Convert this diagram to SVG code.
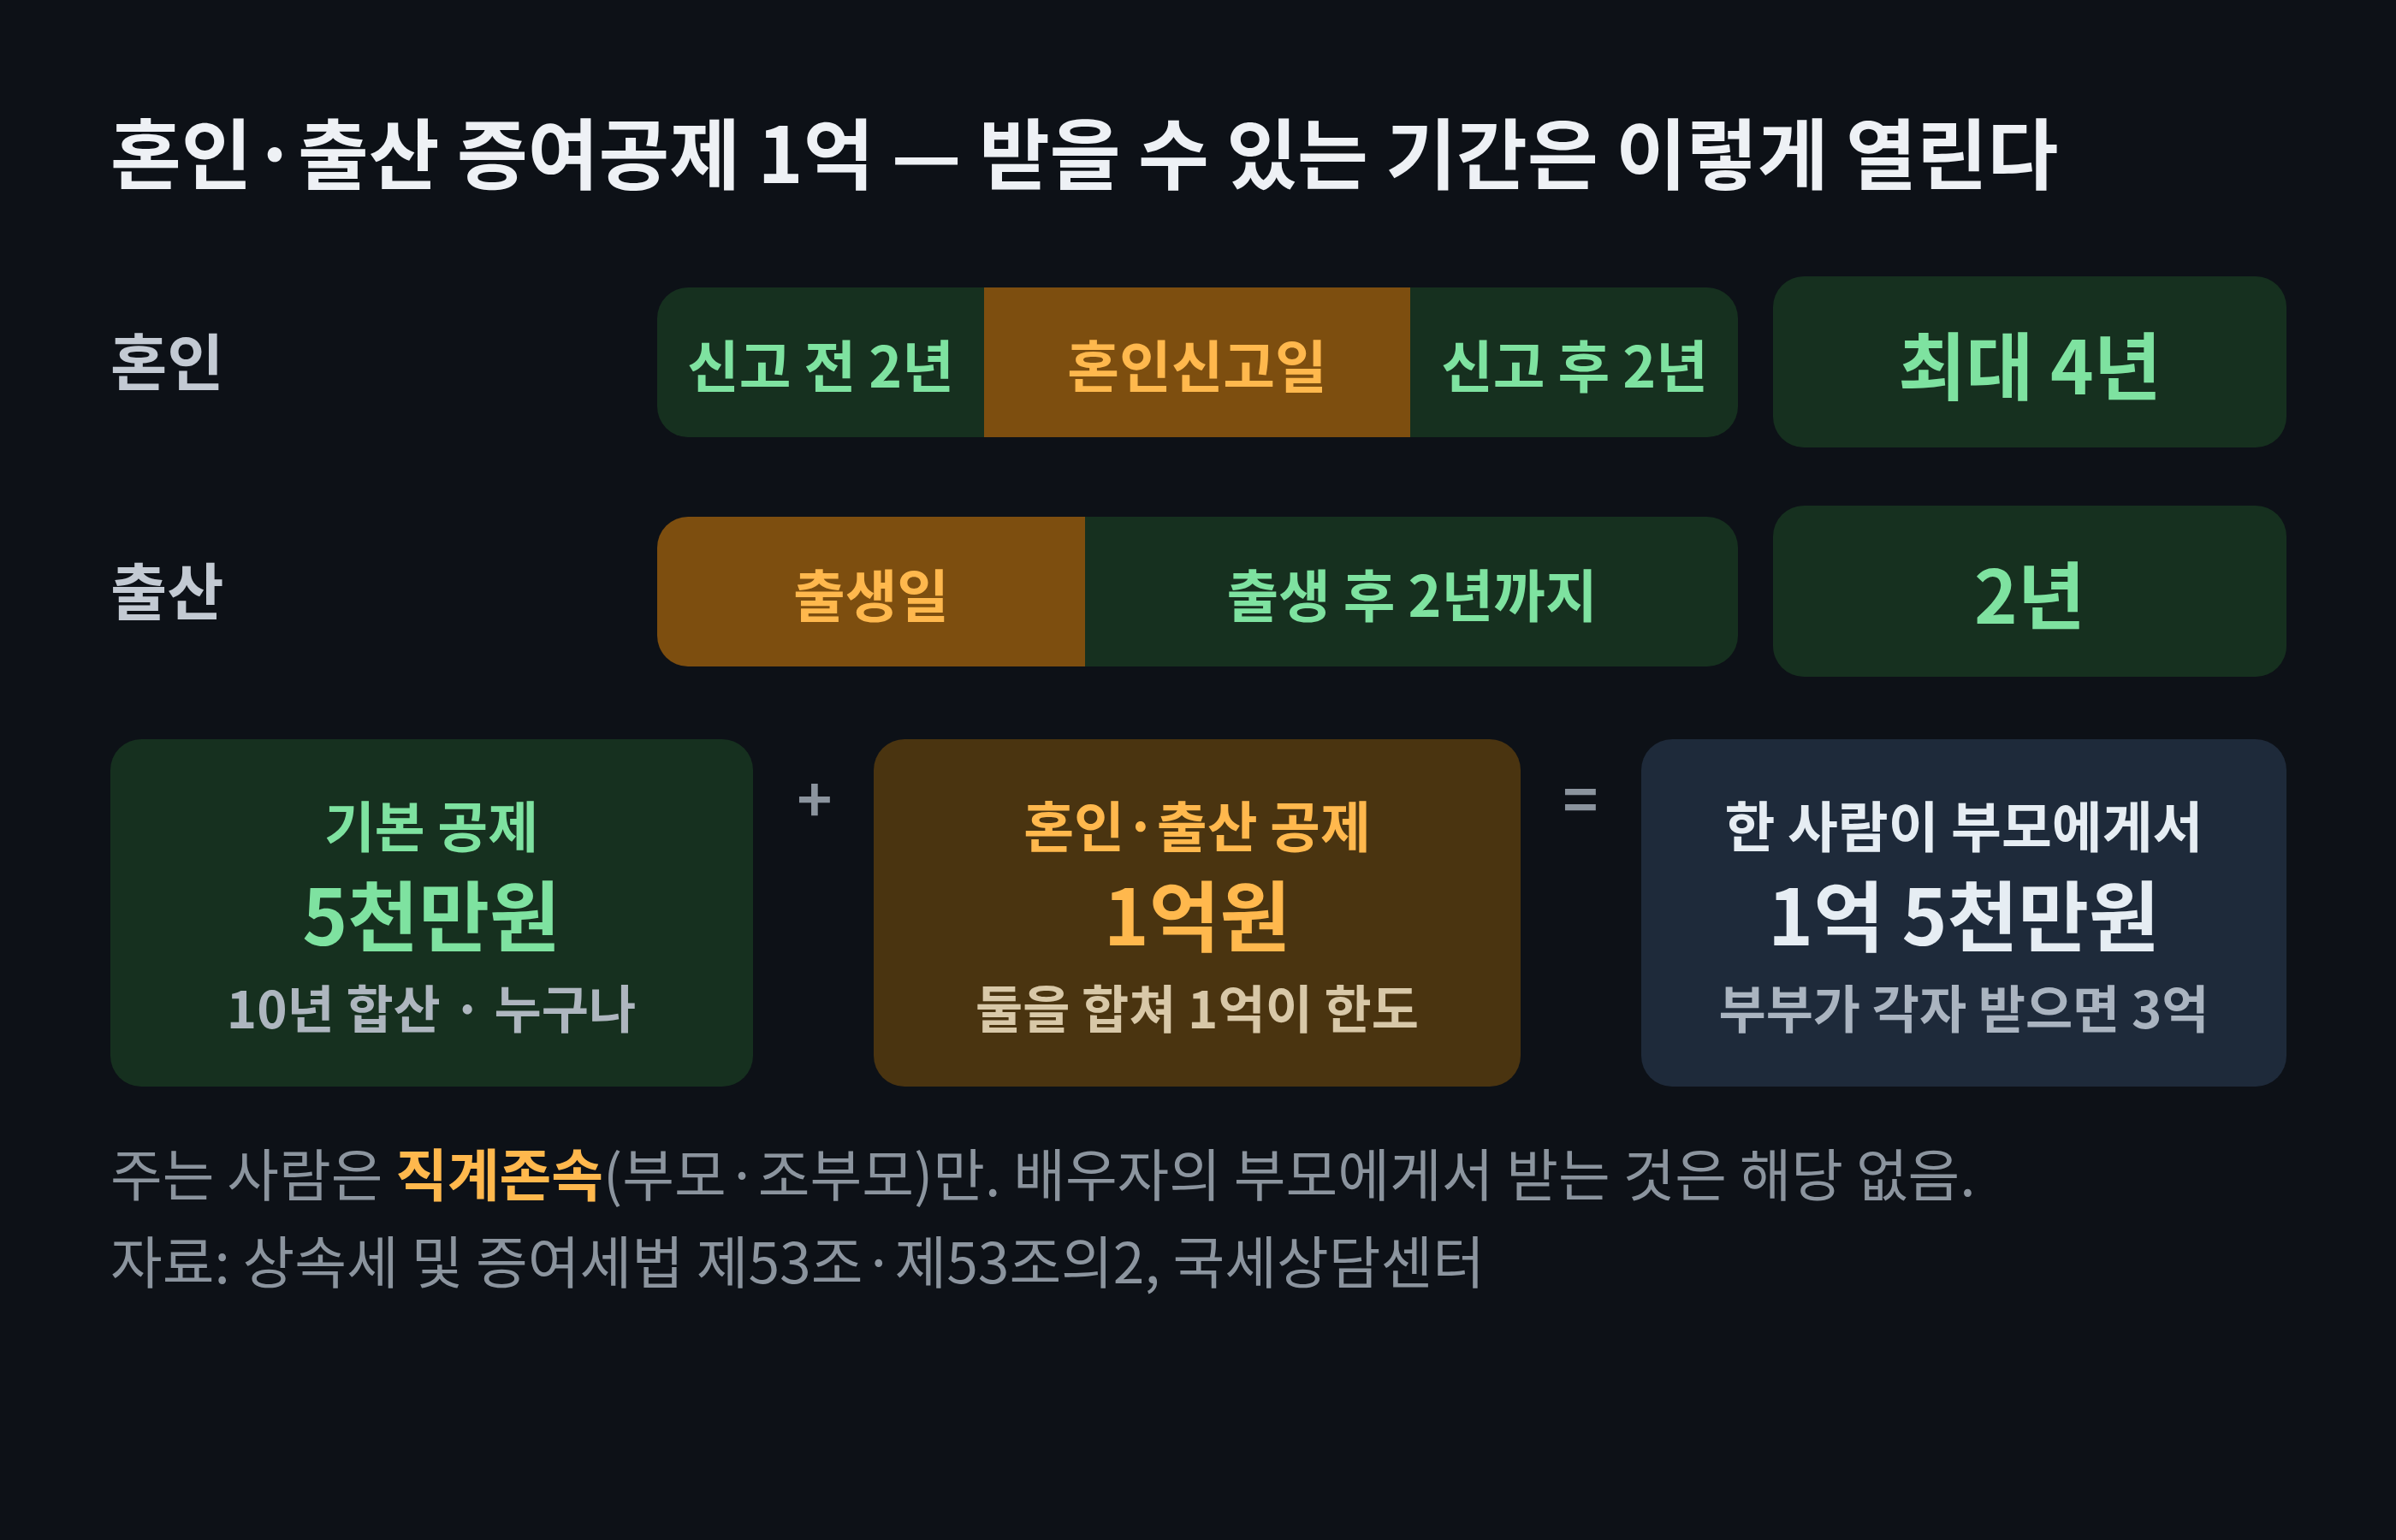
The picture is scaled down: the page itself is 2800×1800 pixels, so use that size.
<svg xmlns="http://www.w3.org/2000/svg" width="2800" height="1800" viewBox="0 0 2800 1800">
<style>
text{font-family:"Noto Sans CJK KR","Noto Sans",sans-serif;font-weight:700}
.lbl{font-size:72px;fill:#c3cad3}
.gt{fill:#7ee2a0}
.ot{fill:#ffb84d}
.seg{font-size:66px;text-anchor:middle;dominant-baseline:central}
.big{font-size:86px;text-anchor:middle;dominant-baseline:central}
.mid{text-anchor:middle;dominant-baseline:central}
.foot{font-size:66px;font-weight:400;fill:#8b949e}
</style>
<defs><clipPath id="c1"><rect x="768" y="336" width="1263" height="175" rx="36"/></clipPath>
<clipPath id="c2"><rect x="768" y="604" width="1263" height="175" rx="36"/></clipPath></defs>
<rect width="2800" height="1800" fill="#0d1117"/>
<text x="129" y="214" font-size="90" fill="#eef1f5">혼인·출산 증여공제 1억 — 받을 수 있는 기간은 이렇게 열린다</text>
<g id="row1">
<text class="lbl" x="129" y="450">혼인</text>
<g clip-path="url(#c1)">
<rect x="768" y="336" width="382" height="175" fill="#16301f"/>
<rect x="1150" y="336" width="498" height="175" fill="#7d4e0f"/>
<rect x="1648" y="336" width="383" height="175" fill="#16301f"/>
</g>
<text class="seg gt" x="959" y="424">신고 전 2년</text>
<text class="seg ot" x="1399" y="424">혼인신고일</text>
<text class="seg gt" x="1840" y="424">신고 후 2년</text>
</g>
<g id="box-max4"><rect x="2072" y="323" width="600" height="200" rx="36" fill="#16301f"/>
<text class="big gt" x="2372" y="423">최대 4년</text></g>
<g id="row2">
<text class="lbl" x="129" y="718">출산</text>
<g clip-path="url(#c2)">
<rect x="768" y="604" width="500" height="175" fill="#7d4e0f"/>
<rect x="1268" y="604" width="763" height="175" fill="#16301f"/>
</g>
<text class="seg ot" x="1018" y="692">출생일</text>
<text class="seg gt" x="1650" y="692">출생 후 2년까지</text>
</g>
<g id="box-2y"><rect x="2072" y="591" width="600" height="200" rx="36" fill="#16301f"/>
<text class="big gt" x="2372" y="691">2년</text></g>
<g id="b1"><rect x="129" y="864" width="751" height="406" rx="36" fill="#16301f"/>
<text class="mid gt" x="504" y="962" font-size="64">기본 공제</text>
<text class="mid gt" x="504" y="1066" font-size="90">5천만원</text>
<text class="mid" x="504" y="1175" font-size="60" fill="#aeb6bf">10년 합산 · 누구나</text></g>
<text class="mid" x="952" y="930" font-size="70" fill="#8b949e">+</text>
<g id="b2"><rect x="1021" y="864" width="756" height="406" rx="36" fill="#4a3410"/>
<text class="mid ot" x="1399" y="962" font-size="64">혼인·출산 공제</text>
<text class="mid ot" x="1399" y="1066" font-size="90">1억원</text>
<text class="mid" x="1399" y="1175" font-size="60" fill="#d8c8a8">둘을 합쳐 1억이 한도</text></g>
<text class="mid" x="1847" y="930" font-size="70" fill="#8b949e">=</text>
<g id="b3"><rect x="1918" y="864" width="754" height="406" rx="36" fill="#1e2a3a"/>
<text class="mid" x="2295" y="962" font-size="64" fill="#e6edf3">한 사람이 부모에게서</text>
<text class="mid" x="2295" y="1066" font-size="90" fill="#e6edf3">1억 5천만원</text>
<text class="mid" x="2295" y="1175" font-size="60" fill="#aab4c0">부부가 각자 받으면 3억</text></g>
<text class="foot" x="129" y="1398">주는 사람은 <tspan fill="#ffb84d" font-weight="700">직계존속</tspan>(부모·조부모)만. 배우자의 부모에게서 받는 것은 해당 없음.</text>
<text class="foot" x="129" y="1500">자료: 상속세 및 증여세법 제53조·제53조의2, 국세상담센터</text>
</svg>
